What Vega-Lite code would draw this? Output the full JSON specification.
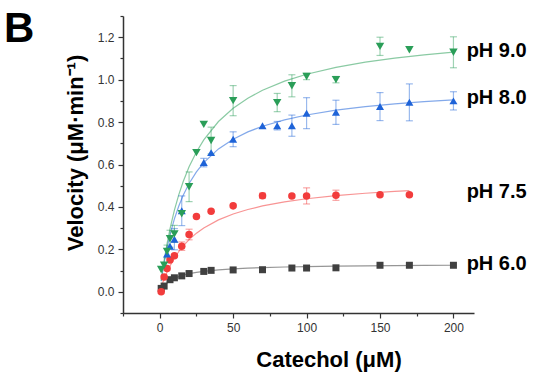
{
  "$schema": "https://vega.github.io/schema/vega-lite/v6.json",
  "width": 351,
  "height": 297,
  "autosize": {"type": "none"},
  "padding": {"left": 123, "top": 16, "right": 62, "bottom": 59},
  "background": "white",
  "config": {
    "view": {"stroke": null},
    "font": "Liberation Sans",
    "axis": {
      "grid": false,
      "domainColor": "#333333",
      "domainWidth": 1.5,
      "tickColor": "#333333",
      "tickWidth": 1.2,
      "labelColor": "#333333",
      "labelFont": "Liberation Sans",
      "labelFontSize": 12,
      "labelFlush": false,
      "labelOverlap": false,
      "titleFont": "Liberation Sans",
      "titleFontSize": 22,
      "titleFontWeight": "bold",
      "titleColor": "#000000"
    }
  },
  "datasets": {
    "pts": [
      {"series": "pH 6.0", "x": 1, "v": 0.016, "err": 0},
      {"series": "pH 6.0", "x": 3, "v": 0.027, "err": 0},
      {"series": "pH 6.0", "x": 7, "v": 0.057, "err": 0},
      {"series": "pH 6.0", "x": 10, "v": 0.066, "err": 0},
      {"series": "pH 6.0", "x": 15, "v": 0.075, "err": 0},
      {"series": "pH 6.0", "x": 20, "v": 0.086, "err": 0},
      {"series": "pH 6.0", "x": 30, "v": 0.096, "err": 0},
      {"series": "pH 6.0", "x": 35, "v": 0.101, "err": 0},
      {"series": "pH 6.0", "x": 50, "v": 0.103, "err": 0},
      {"series": "pH 6.0", "x": 70, "v": 0.104, "err": 0},
      {"series": "pH 6.0", "x": 90, "v": 0.112, "err": 0},
      {"series": "pH 6.0", "x": 100, "v": 0.112, "err": 0},
      {"series": "pH 6.0", "x": 120, "v": 0.113, "err": 0},
      {"series": "pH 6.0", "x": 150, "v": 0.125, "err": 0},
      {"series": "pH 6.0", "x": 170, "v": 0.125, "err": 0},
      {"series": "pH 6.0", "x": 200, "v": 0.125, "err": 0},
      {"series": "pH 7.5", "x": 1, "v": 0.0, "err": 0},
      {"series": "pH 7.5", "x": 3, "v": 0.07, "err": 0},
      {"series": "pH 7.5", "x": 5, "v": 0.11, "err": 0},
      {"series": "pH 7.5", "x": 7, "v": 0.15, "err": 0},
      {"series": "pH 7.5", "x": 10, "v": 0.17, "err": 0},
      {"series": "pH 7.5", "x": 15, "v": 0.215, "err": 0.02},
      {"series": "pH 7.5", "x": 20, "v": 0.27, "err": 0.025},
      {"series": "pH 7.5", "x": 25, "v": 0.355, "err": 0},
      {"series": "pH 7.5", "x": 35, "v": 0.38, "err": 0},
      {"series": "pH 7.5", "x": 50, "v": 0.405, "err": 0},
      {"series": "pH 7.5", "x": 70, "v": 0.453, "err": 0.012},
      {"series": "pH 7.5", "x": 90, "v": 0.452, "err": 0},
      {"series": "pH 7.5", "x": 100, "v": 0.452, "err": 0.038},
      {"series": "pH 7.5", "x": 120, "v": 0.455, "err": 0.024},
      {"series": "pH 7.5", "x": 150, "v": 0.457, "err": 0},
      {"series": "pH 7.5", "x": 170, "v": 0.457, "err": 0},
      {"series": "pH 8.0", "x": 5, "v": 0.178, "err": 0},
      {"series": "pH 8.0", "x": 7, "v": 0.215, "err": 0},
      {"series": "pH 8.0", "x": 10, "v": 0.248, "err": 0.05},
      {"series": "pH 8.0", "x": 15, "v": 0.382, "err": 0.07},
      {"series": "pH 8.0", "x": 30, "v": 0.609, "err": 0.02},
      {"series": "pH 8.0", "x": 35, "v": 0.656, "err": 0},
      {"series": "pH 8.0", "x": 50, "v": 0.719, "err": 0.035},
      {"series": "pH 8.0", "x": 70, "v": 0.783, "err": 0},
      {"series": "pH 8.0", "x": 80, "v": 0.783, "err": 0.02},
      {"series": "pH 8.0", "x": 90, "v": 0.783, "err": 0.05},
      {"series": "pH 8.0", "x": 100, "v": 0.842, "err": 0.073},
      {"series": "pH 8.0", "x": 120, "v": 0.846, "err": 0.057},
      {"series": "pH 8.0", "x": 150, "v": 0.873, "err": 0.066},
      {"series": "pH 8.0", "x": 170, "v": 0.893, "err": 0.087},
      {"series": "pH 8.0", "x": 200, "v": 0.9, "err": 0.043},
      {"series": "pH 9.0", "x": 1, "v": 0.105, "err": 0},
      {"series": "pH 9.0", "x": 3, "v": 0.125, "err": 0},
      {"series": "pH 9.0", "x": 5, "v": 0.19, "err": 0.03},
      {"series": "pH 9.0", "x": 7, "v": 0.25, "err": 0.04},
      {"series": "pH 9.0", "x": 10, "v": 0.273, "err": 0.04},
      {"series": "pH 9.0", "x": 15, "v": 0.368, "err": 0},
      {"series": "pH 9.0", "x": 20, "v": 0.495, "err": 0.07},
      {"series": "pH 9.0", "x": 25, "v": 0.656, "err": 0},
      {"series": "pH 9.0", "x": 30, "v": 0.789, "err": 0},
      {"series": "pH 9.0", "x": 35, "v": 0.713, "err": 0.063},
      {"series": "pH 9.0", "x": 50, "v": 0.901, "err": 0.071},
      {"series": "pH 9.0", "x": 80, "v": 0.892, "err": 0.043},
      {"series": "pH 9.0", "x": 90, "v": 0.971, "err": 0.052},
      {"series": "pH 9.0", "x": 100, "v": 1.015, "err": 0.015},
      {"series": "pH 9.0", "x": 120, "v": 1.0, "err": 0.015},
      {"series": "pH 9.0", "x": 150, "v": 1.157, "err": 0.043},
      {"series": "pH 9.0", "x": 170, "v": 1.141, "err": 0},
      {"series": "pH 9.0", "x": 200, "v": 1.129, "err": 0.073}
    ],
    "fit": [
      {"series": "pH 6.0", "x": 1, "v": 0.011},
      {"series": "pH 6.0", "x": 2, "v": 0.0203},
      {"series": "pH 6.0", "x": 3, "v": 0.0283},
      {"series": "pH 6.0", "x": 5, "v": 0.0413},
      {"series": "pH 6.0", "x": 7, "v": 0.0513},
      {"series": "pH 6.0", "x": 10, "v": 0.0629},
      {"series": "pH 6.0", "x": 13, "v": 0.0715},
      {"series": "pH 6.0", "x": 16, "v": 0.0782},
      {"series": "pH 6.0", "x": 20, "v": 0.0852},
      {"series": "pH 6.0", "x": 25, "v": 0.0917},
      {"series": "pH 6.0", "x": 30, "v": 0.0966},
      {"series": "pH 6.0", "x": 40, "v": 0.1035},
      {"series": "pH 6.0", "x": 50, "v": 0.1082},
      {"series": "pH 6.0", "x": 60, "v": 0.1115},
      {"series": "pH 6.0", "x": 70, "v": 0.1141},
      {"series": "pH 6.0", "x": 85, "v": 0.1169},
      {"series": "pH 6.0", "x": 100, "v": 0.1189},
      {"series": "pH 6.0", "x": 120, "v": 0.1209},
      {"series": "pH 6.0", "x": 140, "v": 0.1224},
      {"series": "pH 6.0", "x": 160, "v": 0.1235},
      {"series": "pH 6.0", "x": 180, "v": 0.1244},
      {"series": "pH 6.0", "x": 200, "v": 0.1251},
      {"series": "pH 7.5", "x": 1, "v": 0.0215},
      {"series": "pH 7.5", "x": 2, "v": 0.0414},
      {"series": "pH 7.5", "x": 3, "v": 0.0599},
      {"series": "pH 7.5", "x": 5, "v": 0.093},
      {"series": "pH 7.5", "x": 7, "v": 0.1219},
      {"series": "pH 7.5", "x": 10, "v": 0.1589},
      {"series": "pH 7.5", "x": 13, "v": 0.1899},
      {"series": "pH 7.5", "x": 16, "v": 0.2164},
      {"series": "pH 7.5", "x": 20, "v": 0.246},
      {"series": "pH 7.5", "x": 25, "v": 0.2764},
      {"series": "pH 7.5", "x": 30, "v": 0.3011},
      {"series": "pH 7.5", "x": 40, "v": 0.339},
      {"series": "pH 7.5", "x": 50, "v": 0.3668},
      {"series": "pH 7.5", "x": 60, "v": 0.3879},
      {"series": "pH 7.5", "x": 70, "v": 0.4046},
      {"series": "pH 7.5", "x": 85, "v": 0.4238},
      {"series": "pH 7.5", "x": 100, "v": 0.4385},
      {"series": "pH 7.5", "x": 120, "v": 0.4532},
      {"series": "pH 7.5", "x": 140, "v": 0.4644},
      {"series": "pH 7.5", "x": 160, "v": 0.4731},
      {"series": "pH 7.5", "x": 170, "v": 0.4768},
      {"series": "pH 8.0", "x": 1, "v": 0.05},
      {"series": "pH 8.0", "x": 2, "v": 0.0952},
      {"series": "pH 8.0", "x": 3, "v": 0.1362},
      {"series": "pH 8.0", "x": 5, "v": 0.208},
      {"series": "pH 8.0", "x": 7, "v": 0.2686},
      {"series": "pH 8.0", "x": 10, "v": 0.3438},
      {"series": "pH 8.0", "x": 13, "v": 0.4047},
      {"series": "pH 8.0", "x": 16, "v": 0.4552},
      {"series": "pH 8.0", "x": 20, "v": 0.5103},
      {"series": "pH 8.0", "x": 25, "v": 0.5651},
      {"series": "pH 8.0", "x": 30, "v": 0.6086},
      {"series": "pH 8.0", "x": 40, "v": 0.6735},
      {"series": "pH 8.0", "x": 50, "v": 0.7195},
      {"series": "pH 8.0", "x": 60, "v": 0.7538},
      {"series": "pH 8.0", "x": 70, "v": 0.7804},
      {"series": "pH 8.0", "x": 85, "v": 0.8107},
      {"series": "pH 8.0", "x": 100, "v": 0.8333},
      {"series": "pH 8.0", "x": 120, "v": 0.8559},
      {"series": "pH 8.0", "x": 140, "v": 0.8728},
      {"series": "pH 8.0", "x": 160, "v": 0.8859},
      {"series": "pH 8.0", "x": 180, "v": 0.8964},
      {"series": "pH 8.0", "x": 200, "v": 0.9049},
      {"series": "pH 9.0", "x": 1, "v": 0.0531},
      {"series": "pH 9.0", "x": 2, "v": 0.1019},
      {"series": "pH 9.0", "x": 3, "v": 0.1468},
      {"series": "pH 9.0", "x": 5, "v": 0.2271},
      {"series": "pH 9.0", "x": 7, "v": 0.2965},
      {"series": "pH 9.0", "x": 10, "v": 0.3847},
      {"series": "pH 9.0", "x": 13, "v": 0.4581},
      {"series": "pH 9.0", "x": 16, "v": 0.5201},
      {"series": "pH 9.0", "x": 20, "v": 0.5892},
      {"series": "pH 9.0", "x": 25, "v": 0.6593},
      {"series": "pH 9.0", "x": 30, "v": 0.7161},
      {"series": "pH 9.0", "x": 40, "v": 0.8026},
      {"series": "pH 9.0", "x": 50, "v": 0.8652},
      {"series": "pH 9.0", "x": 60, "v": 0.9127},
      {"series": "pH 9.0", "x": 70, "v": 0.9499},
      {"series": "pH 9.0", "x": 85, "v": 0.9928},
      {"series": "pH 9.0", "x": 100, "v": 1.0253},
      {"series": "pH 9.0", "x": 120, "v": 1.0579},
      {"series": "pH 9.0", "x": 140, "v": 1.0825},
      {"series": "pH 9.0", "x": 160, "v": 1.1017},
      {"series": "pH 9.0", "x": 180, "v": 1.1171},
      {"series": "pH 9.0", "x": 200, "v": 1.1298}
    ],
    "labels": [
      {"series": "pH 9.0", "x": 209, "v": 1.134},
      {"series": "pH 8.0", "x": 209, "v": 0.912},
      {"series": "pH 7.5", "x": 209, "v": 0.472},
      {"series": "pH 6.0", "x": 209, "v": 0.129}
    ],
    "panel": [
      {"series": "B", "x": -106, "v": 1.177}
    ]
  },
  "encoding": {
    "x": {
      "field": "x",
      "type": "quantitative",
      "scale": {"domain": [-25, 214], "nice": false, "zero": false},
      "axis": {
        "title": "Catechol (μM)",
        "values": [-25, 0, 25, 50, 75, 100, 125, 150, 175, 200],
        "labelExpr": "datum.value % 50 == 0 ? datum.label : ''",
        "tickSize": {"condition": {"test": "datum.value % 50 != 0", "value": 3}, "value": 5},
        "labelPadding": 4,
        "titleX": 205.5,
        "titleY": 53,
        "titleAlign": "center",
        "titleBaseline": "alphabetic",
        "titleAnchor": null
      }
    },
    "y": {
      "field": "v",
      "type": "quantitative",
      "scale": {"domain": [-0.1, 1.3], "nice": false, "zero": false},
      "axis": {
        "title": "Velocity (μM·min⁻¹)",
        "values": [-0.1, 0, 0.1, 0.2, 0.3, 0.4, 0.5, 0.6, 0.7, 0.8, 0.9, 1.0, 1.1, 1.2, 1.3],
        "format": ".1f",
        "labelExpr": "round(datum.value * 10) % 2 == 0 ? datum.label : ''",
        "tickSize": {"condition": {"test": "round(datum.value * 10) % 2 != 0", "value": 3}, "value": 5},
        "labelPadding": 4,
        "titleAngle": 270,
        "titleX": -41,
        "titleY": 136.5,
        "titleAlign": "center",
        "titleBaseline": "alphabetic"
      }
    },
    "color": {
      "field": "series",
      "type": "nominal",
      "scale": {
        "domain": ["pH 6.0", "pH 7.5", "pH 8.0", "pH 9.0"],
        "range": ["#404040", "#f23c3c", "#1e63d8", "#2a9e58"]
      },
      "legend": null
    }
  },
  "layer": [
    {
      "data": {"name": "fit"},
      "mark": {"type": "line", "strokeWidth": 1.2, "opacity": 0.55},
      "encoding": {}
    },
    {
      "data": {"name": "pts"},
      "transform": [{"filter": "datum.err > 0"}],
      "mark": {"type": "errorbar", "ticks": true, "size": 7, "thickness": 1.2, "opacity": 0.45},
      "encoding": {"yError": {"field": "err"}}
    },
    {
      "data": {"name": "pts"},
      "mark": {"type": "point", "filled": true, "opacity": 1},
      "encoding": {
        "shape": {
          "field": "series",
          "type": "nominal",
          "scale": {
            "domain": ["pH 6.0", "pH 7.5", "pH 8.0", "pH 9.0"],
            "range": ["square", "circle", "triangle-up", "triangle-down"]
          },
          "legend": null
        },
        "size": {
          "field": "series",
          "type": "nominal",
          "scale": {
            "domain": ["pH 6.0", "pH 7.5", "pH 8.0", "pH 9.0"],
            "range": [49, 72, 72, 72]
          },
          "legend": null
        }
      }
    },
    {
      "data": {"name": "labels"},
      "mark": {"type": "text", "align": "left", "baseline": "middle", "fontSize": 20, "fontWeight": "bold", "font": "Liberation Sans"},
      "encoding": {
        "text": {"field": "series"},
        "color": {"value": "#000000"}
      }
    },
    {
      "data": {"name": "panel"},
      "mark": {"type": "text", "align": "left", "baseline": "alphabetic", "fontSize": 42, "fontWeight": "bold", "font": "Liberation Sans"},
      "encoding": {
        "text": {"field": "series"},
        "color": {"value": "#000000"}
      }
    }
  ]
}
